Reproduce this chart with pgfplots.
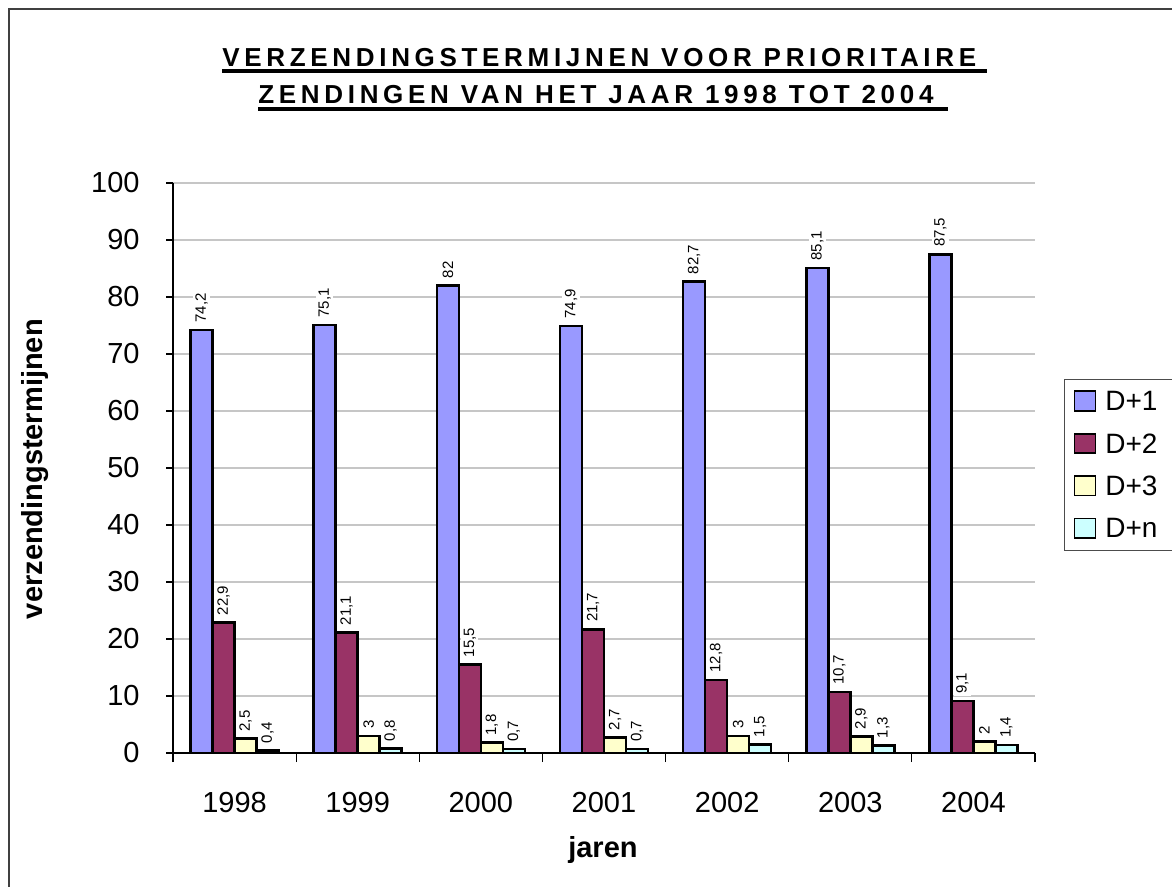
\documentclass[border=0pt]{standalone}
\usepackage{fontspec}
\setmainfont{Liberation Sans}
\newfontfamily\titlefont[LetterSpace=18]{Liberation Sans}
\usepackage{pgfplots}
\pgfplotsset{compat=1.18}
\definecolor{cA}{HTML}{9999FF}
\definecolor{cB}{HTML}{993366}
\definecolor{cC}{HTML}{FFFFCC}
\definecolor{cD}{HTML}{CCFFFF}
\begin{document}
\begin{tikzpicture}
\useasboundingbox (0,0) rectangle (586pt,-443.5pt);
\begin{scope}[x=0.5pt,y=-0.5pt]
\draw[line width=1pt, black!75] (9,9) rectangle (1300,1000);
\node[anchor=base west, inner sep=0pt, font={\titlefont\bfseries\fontsize{13}{15}\selectfont}] (t1) at (222,67) {VERZENDINGSTERMIJNEN VOOR PRIORITAIRE};
\draw[line width=1.65pt] (222,71) -- (987,71);
\node[anchor=base west, inner sep=0pt, font={\titlefont\bfseries\fontsize{13}{15}\selectfont}] (t2) at (258,104) {ZENDINGEN VAN HET JAAR 1998 TOT 2004};
\draw[line width=1.65pt] (258,109) -- (948,109);
\end{scope}
\begin{axis}[
  at={(86.5pt,-376.5pt)}, anchor=south west,
  scale only axis, width=431pt, height=285pt,
  xmin=-0.5, xmax=6.5, ymin=0, ymax=100,
  axis lines*=left,
  axis line style={line width=0.6pt, black},
  ybar=0pt, bar width=11pt,
  xtick={0,...,6}, xticklabels={1998,1999,2000,2001,2002,2003,2004},
  minor xtick={-0.5,0.5,...,6.5},
  ytick={0,10,...,100},
  tick align=outside,
  major tick length=3.5pt, minor tick length=4.5pt,
  tick style={black, line width=0.6pt},
  major x tick style={draw=none},
  ymajorgrids, grid style={gray!45, line width=0.7pt},
  tick label style={font=\fontsize{14.5}{17}\selectfont},
  /pgf/number format/assume math mode=true,
  /pgf/number format/use comma,
  /pgf/number format/1000 sep={},
  xticklabel style={anchor=base, yshift=-26pt, inner sep=0pt},
  yticklabel style={anchor=east, inner sep=0pt, xshift=-13pt},
  xlabel={jaren},
  xlabel style={at={(axis description cs:0.4988,-0.1825)}, anchor=base, font=\bfseries\fontsize{14.5}{17}\selectfont},
  ylabel={verzendingstermijnen},
  ylabel style={at={(axis description cs:-0.160,0.498)}, anchor=center, font=\bfseries\fontsize{14.5}{17}\selectfont},
  nodes near coords,
  every node near coord/.append style={rotate=90, anchor=west, font=\fontsize{7.5}{8.5}\selectfont, fill=white, inner sep=1.2pt, outer sep=2.5pt, text=black},
  legend style={at={(1.0336,0.6561)}, anchor=north west, draw=black!70, line width=0.6pt,
     font=\fontsize{14}{16}\selectfont, inner xsep=4.5pt, inner ysep=3.5pt, row sep=6.2pt,
     nodes={inner sep=0pt, anchor=base west, text height=12pt, text depth=3pt}},
  /tikz/every odd column/.append style={column sep=4.5pt},
  legend image code/.code={\draw[#1, line width=0.9pt] (0pt,0pt) rectangle (10.5pt,9.7pt);},
]
\addplot[fill=cA, draw=black, line width=1.3pt] coordinates {(0,74.2) (1,75.1) (2,82) (3,74.9) (4,82.7) (5,85.1) (6,87.5)};
\addplot[fill=cB, draw=black, line width=1.3pt] coordinates {(0,22.9) (1,21.1) (2,15.5) (3,21.7) (4,12.8) (5,10.7) (6,9.1)};
\addplot[fill=cC, draw=black, line width=1.3pt] coordinates {(0,2.5) (1,3) (2,1.8) (3,2.7) (4,3) (5,2.9) (6,2)};
\addplot[fill=cD, draw=black, line width=1.3pt] coordinates {(0,0.4) (1,0.8) (2,0.7) (3,0.7) (4,1.5) (5,1.3) (6,1.4)};
\legend{\makebox[50pt][l]{D+1},\makebox[50pt][l]{D+2},\makebox[50pt][l]{D+3},\makebox[50pt][l]{D+n}}
\end{axis}
\end{tikzpicture}
\end{document}
